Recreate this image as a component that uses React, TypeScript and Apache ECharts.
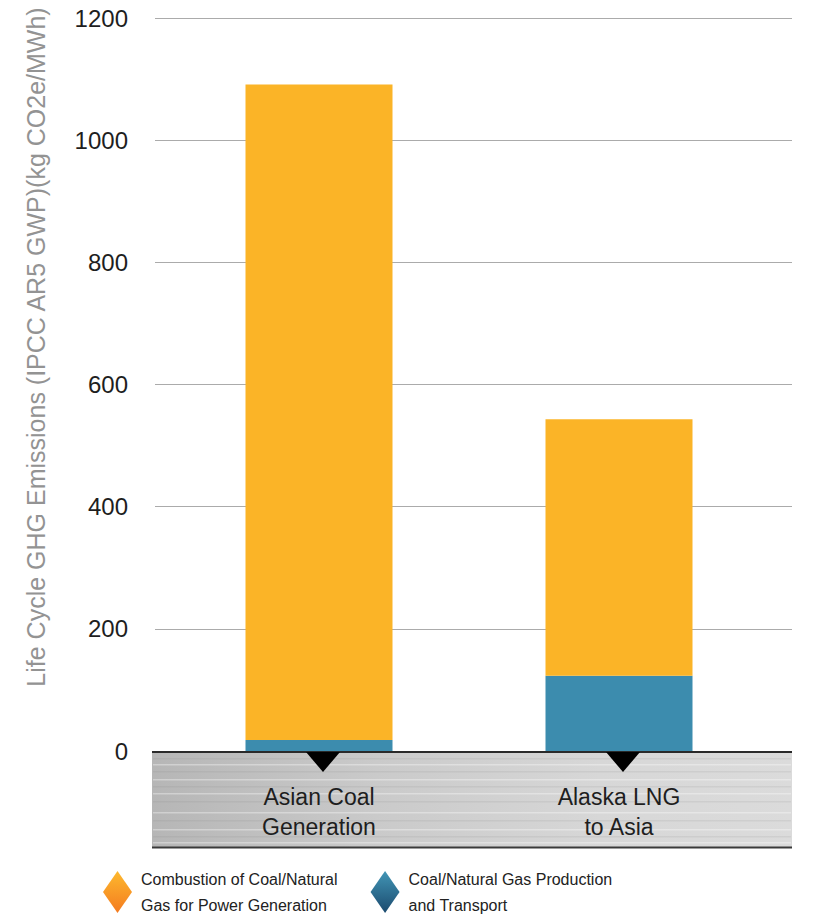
import React, { useEffect, useRef } from "react";
import * as echarts from "echarts";

const categories = ["Asian Coal\nGeneration", "Alaska LNG\nto Asia"];
const productionTransport = [18, 123];
const combustion = [1073, 420];
const yTicks = { min: 0, max: 1200, interval: 200 };
const seriesNames = [
  "Combustion of Coal/Natural Gas for Power Generation",
  "Coal/Natural Gas Production and Transport",
];
const legendLabels: Record<string, string> = {
  [seriesNames[0]]: "Combustion of Coal/Natural\nGas for Power Generation",
  [seriesNames[1]]: "Coal/Natural Gas Production\nand Transport",
};
const yTitle = "Life Cycle GHG Emissions (IPCC AR5 GWP)(kg CO2e/MWh)";

const ORANGE = "#FBB427";
const BLUE = "#3C8CAE";
const FONT = "Arial, 'Liberation Sans', Helvetica, sans-serif";

export default function App() {
  const ref = useRef<HTMLDivElement>(null);
  useEffect(() => {
    if (!ref.current) return;
    const chart = echarts.init(ref.current, undefined, { renderer: "svg" });

    const streaks: any[] = [];
    const streakYs = [758, 764, 771, 779, 786, 793, 801, 812, 820, 829, 836, 842];
    streakYs.forEach((y, i) => {
      streaks.push({
        type: "rect",
        z: 1,
        silent: true,
        shape: { x: 153, y, width: 638, height: 1.5 },
        style: { fill: i % 2 ? "rgba(255,255,255,0.35)" : "rgba(120,120,120,0.12)" },
      });
    });

    chart.setOption({
      animation: false,
      textStyle: { fontFamily: FONT },
      grid: [
        { left: 169, width: 600, top: 18, height: 733 },
        { left: 155, width: 637, top: 18, height: 733 },
      ],
      xAxis: [
        {
          type: "category",
          gridIndex: 0,
          data: categories,
          z: 10,
          axisLine: { show: false },
          axisTick: { show: false },
          axisLabel: {
            margin: 31,
            fontSize: 23,
            lineHeight: 30,
            color: "#1e1e1e",
            fontFamily: FONT,
          },
        },
        { type: "value", gridIndex: 1, show: false, min: 0, max: 1 },
      ],
      yAxis: [
        { type: "value", gridIndex: 0, ...yTicks, show: false },
        {
          type: "value",
          gridIndex: 1,
          ...yTicks,
          axisLine: { show: false },
          axisTick: { show: false },
          axisLabel: {
            margin: 27,
            fontSize: 24,
            color: "#1e1e1e",
            fontFamily: FONT,
            formatter: (v: number) => String(v),
          },
          splitLine: { lineStyle: { color: "#ababab", width: 1 } },
        },
      ],
      legend: {
        left: 103,
        top: 866,
        padding: 0,
        itemWidth: 29,
        itemHeight: 42,
        itemGap: 33,
        icon: "diamond",
        selectedMode: false,
        formatter: (n: string) => legendLabels[n] || n,
        textStyle: { fontSize: 16, lineHeight: 26, color: "#222", fontFamily: FONT, padding: [0, 0, 0, 4] },
        data: [
          {
            name: seriesNames[0],
            itemStyle: {
              color: {
                type: "linear", x: 0, y: 0, x2: 0, y2: 1,
                colorStops: [
                  { offset: 0, color: "#FDB92E" },
                  { offset: 1, color: "#F47B20" },
                ],
              },
            },
          },
          {
            name: seriesNames[1],
            itemStyle: {
              color: {
                type: "linear", x: 0, y: 0, x2: 0, y2: 1,
                colorStops: [
                  { offset: 0, color: "#4296B6" },
                  { offset: 1, color: "#1B4A6E" },
                ],
              },
            },
          },
        ],
      },
      graphic: [
        {
          type: "rect",
          z: 0,
          silent: true,
          shape: { x: 152, y: 751, width: 640, height: 97 },
          style: {
            fill: {
              type: "linear", x: 0, y: 0, x2: 1, y2: 0,
              colorStops: [
                { offset: 0, color: "#b6b6b6" },
                { offset: 0.35, color: "#cacaca" },
                { offset: 0.7, color: "#d7d7d7" },
                { offset: 1, color: "#dbdbdb" },
              ],
            },
          },
        },
        ...streaks,
        {
          type: "rect",
          z: 2,
          silent: true,
          shape: { x: 152, y: 751, width: 640, height: 2 },
          style: { fill: "#2a2a2a" },
        },
        {
          type: "rect",
          z: 2,
          silent: true,
          shape: { x: 152, y: 846.5, width: 640, height: 2 },
          style: { fill: "#3a3a3a" },
        },
        {
          type: "text",
          z: 5,
          x: 36,
          y: 347,
          rotation: Math.PI / 2,
          silent: true,
          style: {
            text: yTitle,
            fontSize: 25,
            fontFamily: FONT,
            fill: "#939393",
            align: "center",
            verticalAlign: "middle",
          },
        },
      ],
      series: [
        {
          name: seriesNames[1],
          type: "bar",
          stack: "total",
          xAxisIndex: 0,
          yAxisIndex: 0,
          barWidth: 147,
          data: productionTransport,
          itemStyle: { color: BLUE },
          z: 3,
        },
        {
          name: seriesNames[0],
          type: "bar",
          stack: "total",
          xAxisIndex: 0,
          yAxisIndex: 0,
          barWidth: 147,
          data: combustion,
          itemStyle: { color: ORANGE },
          z: 3,
        },
        {
          name: "marker",
          type: "scatter",
          xAxisIndex: 0,
          yAxisIndex: 0,
          clip: false,
          silent: true,
          z: 20,
          symbol: "path://M0,0L34,0L17,20Z",
          symbolSize: [34, 20],
          symbolOffset: [4, 11],
          itemStyle: { color: "#000", opacity: 1 },
          data: categories.map((c) => [c, 0]),
        },
      ],
    });
    return () => chart.dispose();
  }, []);

  return (
    <div
      ref={ref}
      style={{ position: "fixed", left: 0, top: 0, width: 837, height: 918, background: "#fff" }}
    />
  );
}
